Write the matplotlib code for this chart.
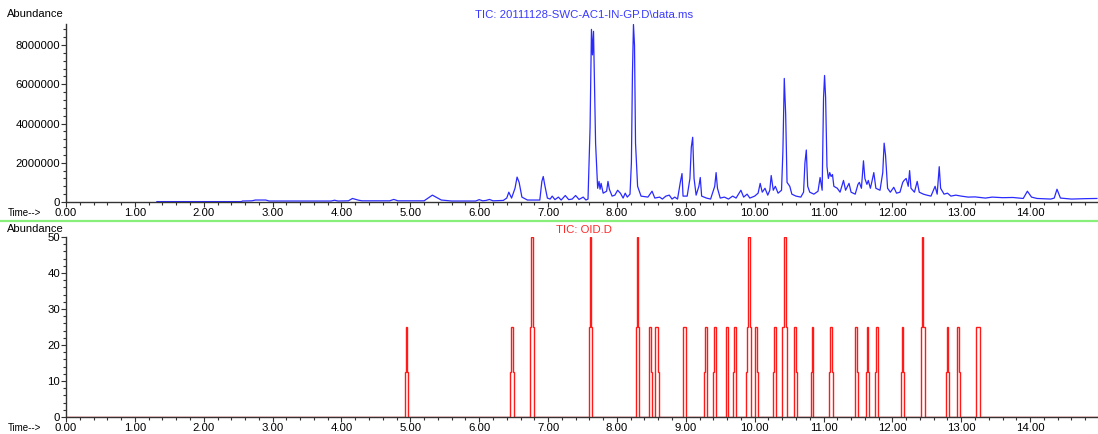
import numpy as np
import matplotlib.pyplot as plt
from matplotlib.ticker import MultipleLocator, FixedLocator, FormatStrFormatter
from matplotlib.lines import Line2D

plt.rcParams['font.family'] = ['Liberation Sans', 'DejaVu Sans']

# TIC trace (time in min, abundance)
tic_time = [1.32, 2.55, 2.56, 2.70, 2.75, 2.90, 2.95, 3.85, 3.90, 3.95, 4.10, 4.16, 4.25, 4.30,
            4.70, 4.76, 4.82, 5.20, 5.32, 5.45, 5.60, 5.95, 6.00, 6.05, 6.10, 6.15, 6.20, 6.35,
            6.40, 6.43, 6.47, 6.52, 6.55, 6.58, 6.62, 6.70, 6.88, 6.91, 6.93, 6.95, 6.99, 7.03,
            7.06, 7.10, 7.15, 7.19, 7.25, 7.30, 7.35, 7.40, 7.45, 7.51, 7.55, 7.58, 7.61, 7.63,
            7.645, 7.66, 7.69, 7.72, 7.74, 7.755, 7.77, 7.80, 7.85, 7.87, 7.89, 7.93, 7.97, 8.01,
            8.05, 8.09, 8.12, 8.15, 8.19, 8.21, 8.225, 8.24, 8.255, 8.27, 8.30, 8.35, 8.45, 8.51,
            8.55, 8.62, 8.66, 8.71, 8.76, 8.80, 8.84, 8.88, 8.92, 8.945, 8.96, 9.02, 9.06, 9.08,
            9.10, 9.12, 9.15, 9.19, 9.21, 9.23, 9.30, 9.36, 9.42, 9.44, 9.46, 9.50, 9.56, 9.62,
            9.68, 9.73, 9.80, 9.84, 9.89, 9.93, 10.00, 10.05, 10.08, 10.11, 10.15, 10.19, 10.22,
            10.24, 10.27, 10.30, 10.34, 10.39, 10.41, 10.43, 10.45, 10.47, 10.51, 10.54, 10.60,
            10.67, 10.71, 10.73, 10.75, 10.77, 10.80, 10.86, 10.92, 10.95, 10.98, 11.00, 11.015,
            11.03, 11.05, 11.07, 11.09, 11.11, 11.13, 11.15, 11.20, 11.24, 11.29, 11.32, 11.37,
            11.40, 11.46, 11.50, 11.52, 11.55, 11.58, 11.60, 11.63, 11.65, 11.68, 11.70, 11.73,
            11.76, 11.82, 11.86, 11.88, 11.90, 11.93, 11.97, 12.02, 12.06, 12.11, 12.15, 12.17,
            12.20, 12.23, 12.25, 12.27, 12.32, 12.36, 12.39, 12.45, 12.50, 12.56, 12.62, 12.65,
            12.68, 12.70, 12.75, 12.80, 12.85, 12.92, 13.00, 13.10, 13.20, 13.35, 13.45, 13.60,
            13.75, 13.90, 13.96, 14.02, 14.10, 14.30, 14.35, 14.39, 14.44, 14.60, 14.80, 14.97]
tic_abund = [20000, 20000, 50000, 60000, 100000, 100000, 50000, 50000, 90000, 50000, 60000,
             180000, 90000, 60000, 60000, 130000, 60000, 60000, 350000, 100000, 50000, 50000,
             120000, 60000, 80000, 130000, 60000, 80000, 200000, 500000, 200000, 700000, 1270000,
             1000000, 250000, 100000, 100000, 1050000, 1300000, 900000, 200000, 150000, 300000,
             120000, 250000, 100000, 330000, 120000, 150000, 330000, 130000, 250000, 100000,
             150000, 3800000, 8800000, 7500000, 8700000, 3000000, 700000, 1050000, 650000, 950000,
             450000, 550000, 1050000, 650000, 300000, 350000, 600000, 450000, 200000, 450000,
             250000, 400000, 2000000, 6500000, 9050000, 8000000, 3000000, 800000, 300000, 250000,
             550000, 200000, 250000, 150000, 300000, 350000, 150000, 250000, 150000, 1000000,
             1450000, 300000, 300000, 1200000, 2800000, 3300000, 1200000, 350000, 800000, 1250000,
             300000, 200000, 150000, 800000, 1500000, 700000, 200000, 250000, 150000, 300000,
             200000, 600000, 250000, 400000, 200000, 300000, 450000, 950000, 500000, 700000,
             350000, 600000, 1350000, 600000, 800000, 450000, 600000, 2600000, 6300000, 4500000,
             1000000, 800000, 400000, 300000, 250000, 500000, 2000000, 2650000, 800000, 500000,
             400000, 550000, 1250000, 600000, 5300000, 6450000, 5350000, 1800000, 1200000,
             1500000, 1300000, 1400000, 800000, 700000, 500000, 1100000, 600000, 950000, 500000,
             400000, 900000, 1000000, 700000, 2100000, 1200000, 900000, 1100000, 700000, 1000000,
             1500000, 700000, 600000, 1500000, 3000000, 2400000, 700000, 500000, 750000, 450000,
             500000, 1000000, 1100000, 1200000, 800000, 1600000, 700000, 500000, 1050000, 500000,
             400000, 350000, 300000, 800000, 400000, 1800000, 700000, 400000, 450000, 300000,
             350000, 300000, 250000, 260000, 200000, 250000, 220000, 230000, 180000, 550000,
             250000, 180000, 150000, 200000, 650000, 200000, 150000, 170000, 180000]

# OID peaks: start time and the abundance steps of each peak
oid_start = [4.92, 6.45, 6.74, 7.60, 8.27, 8.47, 8.56, 8.96, 9.26, 9.39, 9.58, 9.68, 9.88,
             10.00, 10.27, 10.39, 10.57, 10.82, 11.08, 11.45, 11.62, 11.75, 12.12, 12.42,
             12.78, 12.94, 13.22]
oid_levels = [[12.5, 25, 12.5], [12.5, 25, 25, 12.5], [25, 50, 50, 25], [25, 50, 25],
              [25, 50, 25], [25, 25, 12.5], [25, 25, 12.5], [25, 25, 25], [12.5, 25, 25],
              [12.5, 25, 25], [25, 25], [12.5, 25, 25], [12.5, 25, 50, 25], [25, 25, 12.5],
              [12.5, 25, 25], [25, 25, 50, 50, 25], [25, 25, 12.5], [12.5, 25],
              [12.5, 25, 25, 12.5], [25, 25, 12.5], [12.5, 25, 12.5], [12.5, 25, 25],
              [12.5, 25, 12.5], [25, 50, 25, 25], [12.5, 25, 12.5], [25, 25, 12.5],
              [25, 25, 25]]

time_ticks = [0, 1, 2, 3, 4, 5, 6, 7, 8, 9, 10, 11, 12, 13, 14]

step = 0.015  # width of one step in minutes

fig = plt.figure(figsize=(10.98, 4.34), dpi=100)
W, H = 1098, 434

def px_axes(x0, y_bottom, x1, y_top):
    return fig.add_axes([x0 / W, 1 - y_bottom / H, (x1 - x0) / W, (y_bottom - y_top) / H])

ax1 = px_axes(66, 202, 1099, 23.5)
ax2 = px_axes(66, 417, 1099, 237)

# top: TIC
ax1.plot(tic_time, tic_abund, color='#2a2aff', lw=0.9)
ax1.set_ylim(0, 9.1e6)
ax1.yaxis.set_major_locator(MultipleLocator(2000000))
ax1.yaxis.set_minor_locator(MultipleLocator(400000))
ax1.yaxis.set_major_formatter(FormatStrFormatter('%d'))

# bottom: OID sticks as steps
edges = [0.0]
values = []
for t0, levels in zip(oid_start, oid_levels):
    values.append(0)
    edges.append(t0)
    for k, lv in enumerate(levels):
        values.append(lv)
        edges.append(t0 + (k + 1) * step)
values.append(0)
edges.append(15.0)
ax2.stairs(values, edges, color='#ff1a1a', lw=1.0, baseline=None)
ax2.set_ylim(0, 50)
ax2.yaxis.set_major_locator(MultipleLocator(10))
ax2.yaxis.set_minor_locator(MultipleLocator(2))
ax2.yaxis.set_major_formatter(FormatStrFormatter('%d'))

for ax in (ax1, ax2):
    ax.set_xlim(0, 15)
    ax.xaxis.set_major_locator(FixedLocator(time_ticks))
    ax.xaxis.set_minor_locator(FixedLocator(np.arange(0, 15.0, 0.2)))
    ax.xaxis.set_major_formatter(FormatStrFormatter('%.2f'))
    for s in ('top', 'right'):
        ax.spines[s].set_visible(False)
    for s in ('left', 'bottom'):
        ax.spines[s].set_color('#333333')
        ax.spines[s].set_linewidth(1.0)
    ax.tick_params(which='major', length=3.5, width=0.8, pad=0.8, labelsize=8.2, color='#333333')
    ax.tick_params(which='minor', length=2.0, width=0.8, color='#333333')
    ax.set_facecolor('none')

# labels
fig.text(8 / W, 1 - 213 / H, 'Time-->', fontsize=7, ha='left', va='center')
fig.text(8 / W, 1 - 428 / H, 'Time-->', fontsize=7, ha='left', va='center')
fig.text(7 / W, 1 - 14 / H, 'Abundance', fontsize=8, ha='left', va='center')
fig.text(7 / W, 1 - 229 / H, 'Abundance', fontsize=8, ha='left', va='center')
fig.text(584 / W, 1 - 15 / H, 'TIC: 20111128-SWC-AC1-IN-GP.D\\data.ms', color='#3a3aff',
         fontsize=8.2, ha='center', va='center')
fig.text(584 / W, 1 - 230 / H, 'TIC: OID.D', color='#ff2a2a', fontsize=8.2,
         ha='center', va='center')

# green separator between panels
fig.add_artist(Line2D([0, 1], [1 - 221 / H, 1 - 221 / H], transform=fig.transFigure,
                      color='#88f07a', lw=1.6))

fig.savefig('out.png', dpi=100)
